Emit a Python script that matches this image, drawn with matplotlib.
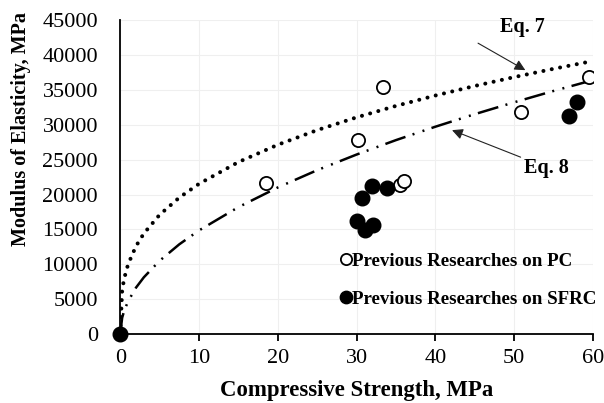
import numpy as np
import matplotlib
matplotlib.use("Agg")
import matplotlib.pyplot as plt

plt.rcParams['font.family'] = ['Liberation Serif', 'DejaVu Serif']

# Previous researches on plain concrete (PC)
pc_fc = [18.5, 30.2, 33.4, 35.5, 36.0, 50.9, 59.5]
pc_E = [21600, 27800, 35400, 21300, 21900, 31900, 36800]

# Previous researches on steel-fibre reinforced concrete (SFRC)
sfrc_fc = [0.0, 30.1, 30.7, 31.1, 32.0, 32.1, 33.8, 56.9, 58.0]
sfrc_E = [0, 16200, 19500, 14900, 21200, 15600, 21000, 31200, 33200]

# curves
curve_fc = [0, 0.25, 0.5, 1, 2, 3, 5, 7.5, 10, 15, 20, 25, 30, 35, 40, 45, 50, 55, 60]
eq7_E = [0, 6300, 7940, 10000, 12600, 14420, 17100, 19570, 21540, 24660, 27140,
         29240, 31070, 32710, 34200, 35570, 36840, 38030, 39150]
eq8_E = [0, 2350, 3320, 4700, 6650, 8140, 10510, 12870, 14860, 18200, 21020,
         23500, 25740, 27810, 29730, 31530, 33230, 34860, 36410]

fig = plt.figure(figsize=(6.04, 4.03), dpi=100)
ax = fig.add_axes([0.199, 0.171, 0.783, 0.779])

ax.plot(curve_fc, eq7_E, color='black', lw=2.9, linestyle=(0, (0.01, 2.1)),
        dash_capstyle='round')
ax.plot(curve_fc, eq8_E, color='black', lw=1.8,
        linestyle=(0, (8.5, 3.0, 0.8, 3.4, 0.8, 3.0)))

ax.plot(pc_fc, pc_E, 'o', mfc='white', mec='black', mew=1.3, ms=9.5,
        label='Previous Researches on PC')
ax.plot(sfrc_fc, sfrc_E, 'o', color='black', ms=10.5, clip_on=False, zorder=5,
        label='Previous Researches on SFRC')

arrow = dict(arrowstyle='-|>', color='#222222', lw=0.8, mutation_scale=16,
             shrinkA=0, shrinkB=0)
ax.annotate('', xy=(51.4, 37830), xytext=(45.4, 41700), arrowprops=arrow)
ax.annotate('', xy=(42.1, 29230), xytext=(50.8, 25360), arrowprops=arrow)
ax.text(51.0, 44000, 'Eq. 7', ha='center', va='center', fontsize=14.5,
        fontweight='bold')
ax.text(54.1, 23800, 'Eq. 8', ha='center', va='center', fontsize=14.5,
        fontweight='bold')

ax.set_xlim(0, 60)
ax.set_ylim(0, 45000)
ax.set_xticks(np.arange(0, 61, 10))
ax.set_yticks(np.arange(0, 45001, 5000))
ax.grid(True, color='#efefef', lw=0.8)
ax.set_axisbelow(True)

for s in ['top', 'right']:
    ax.spines[s].set_visible(False)
ax.spines['left'].set_linewidth(1.3)
ax.spines['bottom'].set_linewidth(1.3)
ax.tick_params(axis='x', direction='out', length=5, width=1.3, pad=6, labelsize=16)
ax.tick_params(axis='y', length=0, pad=16, labelsize=16)

ax.set_xlabel('Compressive Strength, MPa', fontsize=16.4, fontweight='bold')
ax.set_ylabel('Modulus of Elasticity, MPa', fontsize=14.5, fontweight='bold')
ax.xaxis.set_label_coords(0.5, -0.145)
ax.yaxis.set_label_coords(-0.188, 0.653)

leg = ax.legend(loc='upper left', bbox_to_anchor=(0.452, 0.285), frameon=False,
                handlelength=0.5, handletextpad=0.05, labelspacing=1.1,
                borderaxespad=0, markerscale=0.85,
                prop={'weight': 'bold', 'size': 13.7})

fig.savefig('out.png', dpi=100)
